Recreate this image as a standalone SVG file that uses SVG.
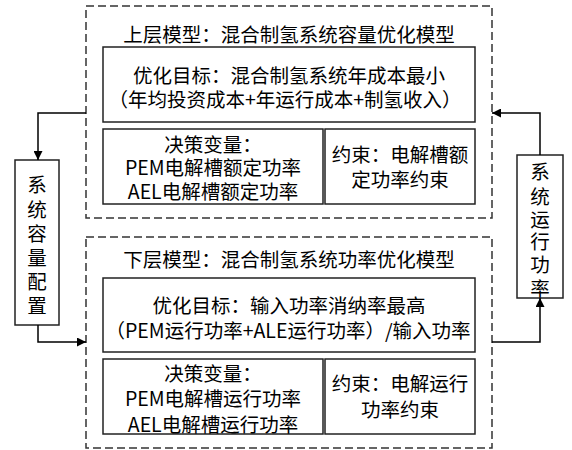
<svg xmlns="http://www.w3.org/2000/svg" width="572" height="450" viewBox="0 0 572 450">
<defs>
<style>
text{font-family:"Noto Sans CJK SC","Noto Sans",sans-serif;font-size:19.5px;fill:#000;text-anchor:middle;dominant-baseline:central}
.dash{fill:none;stroke:#333;stroke-width:1.5;stroke-dasharray:8 4}
.box{fill:#fff;stroke:#222;stroke-width:1.5}
.conn{fill:none;stroke:#000;stroke-width:1.5}
</style>
<marker id="ah" viewBox="0 0 10 10" refX="10" refY="5" markerWidth="9" markerHeight="9" markerUnits="userSpaceOnUse" orient="auto">
<path d="M0,0 L10,5 L0,10 Z" fill="#000"/>
</marker>
</defs>
<rect width="572" height="450" fill="#fff"/>
<g id="upper">
<rect class="dash" x="86" y="6" width="406" height="212"/>
<text x="289" y="33">上层模型：混合制氢系统容量优化模型</text>
</g>
<g id="upper-objective">
<rect class="box" x="103" y="47" width="372" height="75"/>
<text x="289" y="74">优化目标：混合制氢系统年成本最小</text>
<text x="285" y="98">（年均投资成本+年运行成本+制氢收入）</text>
</g>
<g id="upper-decision">
<rect class="box" x="103" y="129" width="220" height="75"/>
<text x="213" y="143">决策变量：</text>
<text x="213" y="166">PEM电解槽额定功率</text>
<text x="213" y="190">AEL电解槽额定功率</text>
</g>
<g id="upper-constraint">
<rect class="box" x="325" y="129" width="150" height="75"/>
<text x="400" y="153">约束：电解槽额</text>
<text x="400" y="178">定功率约束</text>
</g>
<g id="lower">
<rect class="dash" x="86" y="237" width="406" height="211"/>
<text x="289" y="258">下层模型：混合制氢系统功率优化模型</text>
</g>
<g id="lower-objective">
<rect class="box" x="103" y="278" width="372" height="74"/>
<text x="289" y="304">优化目标：输入功率消纳率最高</text>
<text x="288" y="329">（PEM运行功率+ALE运行功率）/输入功率</text>
</g>
<g id="lower-decision">
<rect class="box" x="103" y="359" width="220" height="75"/>
<text x="213" y="372">决策变量：</text>
<text x="213" y="397">PEM电解槽运行功率</text>
<text x="213" y="423">AEL电解槽运行功率</text>
</g>
<g id="lower-constraint">
<rect class="box" x="325" y="359" width="150" height="75"/>
<text x="400" y="382">约束：电解运行</text>
<text x="400" y="408">功率约束</text>
</g>
<g id="capacity">
<rect class="box" x="15" y="160" width="44" height="165"/>
<text x="37" y="183">系</text>
<text x="37" y="208">统</text>
<text x="37" y="232">容</text>
<text x="37" y="256">量</text>
<text x="37" y="280">配</text>
<text x="37" y="304">置</text>
</g>
<g id="power">
<rect class="box" x="517" y="155" width="46" height="143"/>
<text x="540" y="170">系</text>
<text x="540" y="195">统</text>
<text x="540" y="218">运</text>
<text x="540" y="240">行</text>
<text x="540" y="263">功</text>
<text x="540" y="287">率</text>
</g>
<g id="connectors">
<path class="conn" d="M86,113 H38 V160" marker-end="url(#ah)"/>
<path class="conn" d="M38,325 V342 H86" marker-end="url(#ah)"/>
<path class="conn" d="M492,342 H540 V298" marker-end="url(#ah)"/>
<path class="conn" d="M540,155 V113 H492" marker-end="url(#ah)"/>
</g>
</svg>
